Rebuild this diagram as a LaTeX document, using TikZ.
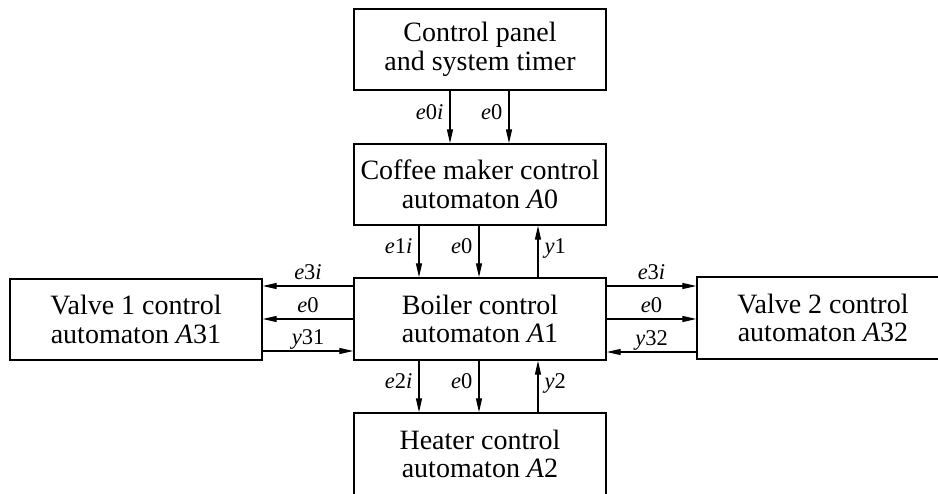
\documentclass[tikz,border=0pt]{standalone}
\usepackage{fontspec}
\setmainfont{Liberation Serif}
\usetikzlibrary{arrows.meta}
\begin{document}
\begin{tikzpicture}[x=1pt,y=-1pt,
  box/.style={draw, line width=1.4pt, minimum width=252pt, minimum height=81pt,
    inner sep=0pt, align=center, font=\fontsize{28}{28.5}\selectfont},
  sig/.style={line width=1.3pt, -{Triangle[length=14pt,width=6pt]}},
  lab/.style={font=\fontsize{22.5}{23}\selectfont, inner sep=0pt},
  labl/.style={lab, anchor=mid east, xshift=-6pt},
  labr/.style={lab, anchor=mid west, xshift=6pt},
  labh/.style={lab, anchor=base, yshift=6pt}]
\useasboundingbox (0,0) rectangle (938,494);

\node[box] (panel) at (480,49.5) {Control panel\\and system timer};
\node[box] (a0) at (480,184.5) {Coffee maker control\\automaton \textit{A}0};
\node[box, minimum height=82pt] (a1) at (480,319) {Boiler control\\automaton \textit{A}1};
\node[box, minimum height=82pt] (a2) at (480,454) {Heater control\\automaton \textit{A}2};
\node[box] (a31) at (136,319.5) {Valve 1 control\\automaton \textit{A}31};
\node[box, minimum height=82pt] (a32) at (823,318) {Valve 2 control\\automaton \textit{A}32};

% panel -> A0
\draw[sig] ([xshift=-30pt]panel.south) -- ([xshift=-30pt]a0.north)
  node[labl, midway] {\textit{e}0\textit{i}};
\draw[sig] ([xshift=29pt]panel.south) -- ([xshift=29pt]a0.north)
  node[labl, midway] {\textit{e}0};

% A0 <-> A1
\draw[sig] ([xshift=-61pt]a0.south) -- ([xshift=-61pt]a1.north)
  node[labl, midway] {\textit{e}1\textit{i}};
\draw[sig] ([xshift=-1pt]a0.south) -- ([xshift=-1pt]a1.north)
  node[labl, midway] {\textit{e}0};
\draw[sig] ([xshift=58pt]a1.north) -- ([xshift=58pt]a0.south)
  node[labr, midway] {\textit{y}1};

% A1 <-> A2
\draw[sig] ([xshift=-61pt]a1.south) -- ([xshift=-61pt]a2.north)
  node[labl, midway] {\textit{e}2\textit{i}};
\draw[sig] ([xshift=-1pt]a1.south) -- ([xshift=-1pt]a2.north)
  node[labl, midway] {\textit{e}0};
\draw[sig] ([xshift=58pt]a2.north) -- ([xshift=58pt]a1.south)
  node[labr, midway] {\textit{y}2};

% A1 <-> A31
\draw[sig] ([yshift=33pt]a1.west) -- ([yshift=33pt]a1.west -| a31.east)
  node[labh, midway] {\textit{e}3\textit{i}};
\draw[sig] ([yshift=0pt]a1.west) -- ([yshift=0pt]a1.west -| a31.east)
  node[labh, midway] {\textit{e}0};
\draw[sig] ([yshift=-32pt]a1.west -| a31.east) -- ([yshift=-32pt]a1.west)
  node[labh, midway] {\textit{y}31};

% A1 <-> A32
\draw[sig] ([yshift=33pt]a1.east) -- ([yshift=33pt]a1.east -| a32.west)
  node[labh, midway] {\textit{e}3\textit{i}};
\draw[sig] ([yshift=0pt]a1.east) -- ([yshift=0pt]a1.east -| a32.west)
  node[labh, midway] {\textit{e}0};
\draw[sig] ([yshift=-33pt]a1.east -| a32.west) -- ([yshift=-33pt]a1.east)
  node[labh, midway] {\textit{y}32};
\end{tikzpicture}
\end{document}
